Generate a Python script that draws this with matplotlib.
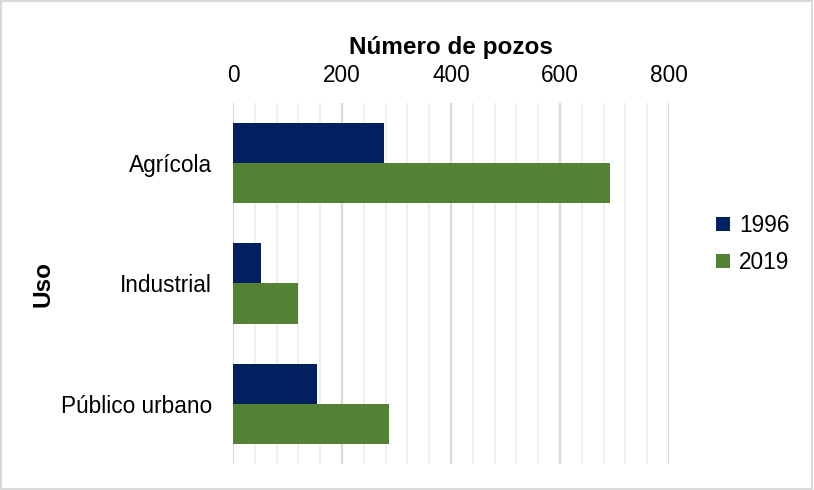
import numpy as np
from matplotlib import pyplot as plt
from matplotlib.patches import Rectangle
from matplotlib.ticker import MultipleLocator

plt.rcParams['font.family'] = ['Liberation Sans', 'DejaVu Sans']

categories = ['Agrícola', 'Industrial', 'Público urbano']
pozos_1996 = [278, 52, 155]
pozos_2019 = [691, 120, 287]
years = ['1996', '2019']
colors = ['#002060', '#548235']

fig = plt.figure(figsize=(8.14, 4.9), dpi=100)
ax = fig.add_axes([0.2862, 0.0531, 0.5356, 0.7367])

y = np.arange(len(categories))
h = 1 / 3
ax.barh(y - h / 2, pozos_1996, height=h, color=colors[0], label=years[0], zorder=3)
ax.barh(y + h / 2, pozos_2019, height=h, color=colors[1], label=years[1], zorder=3)

ax.set_xlim(0, 800)
ax.set_ylim(2.5, -0.5)
ax.xaxis.set_major_locator(MultipleLocator(200))
ax.xaxis.set_minor_locator(MultipleLocator(40))
ax.grid(axis='x', which='major', color='#d9d9d9', lw=1.6, zorder=0)
ax.grid(axis='x', which='minor', color='#efefef', lw=1.4, zorder=0)
ax.set_axisbelow(True)

ax.xaxis.tick_top()
ax.xaxis.set_label_position('top')
ax.tick_params(axis='both', which='both', length=0, labelsize=16.3)
ax.tick_params(axis='x', pad=11.5)
ax.tick_params(axis='y', pad=15)
ax.set_yticks(y)
ax.set_yticklabels(categories)
ax.set_xlabel('Número de pozos', fontsize=17.5, fontweight='bold', labelpad=7)
for s in ax.spines.values():
    s.set_visible(False)

fig.text(0.053, 0.42, 'Uso', rotation=90, fontsize=17.5, fontweight='bold',
         ha='center', va='center')

ax.legend(loc='center left', bbox_to_anchor=(0.88, 0.502), bbox_transform=fig.transFigure,
          frameon=False, fontsize=16.3, handlelength=0.6, handleheight=0.6,
          handletextpad=0.4, labelspacing=0.62, borderpad=0, borderaxespad=0)

fig.add_artist(Rectangle((0.001, 0.002), 0.997, 0.996, transform=fig.transFigure,
                         fill=False, ec='#d9d9d9', lw=1.5))

fig.savefig('out.png', dpi=100)
